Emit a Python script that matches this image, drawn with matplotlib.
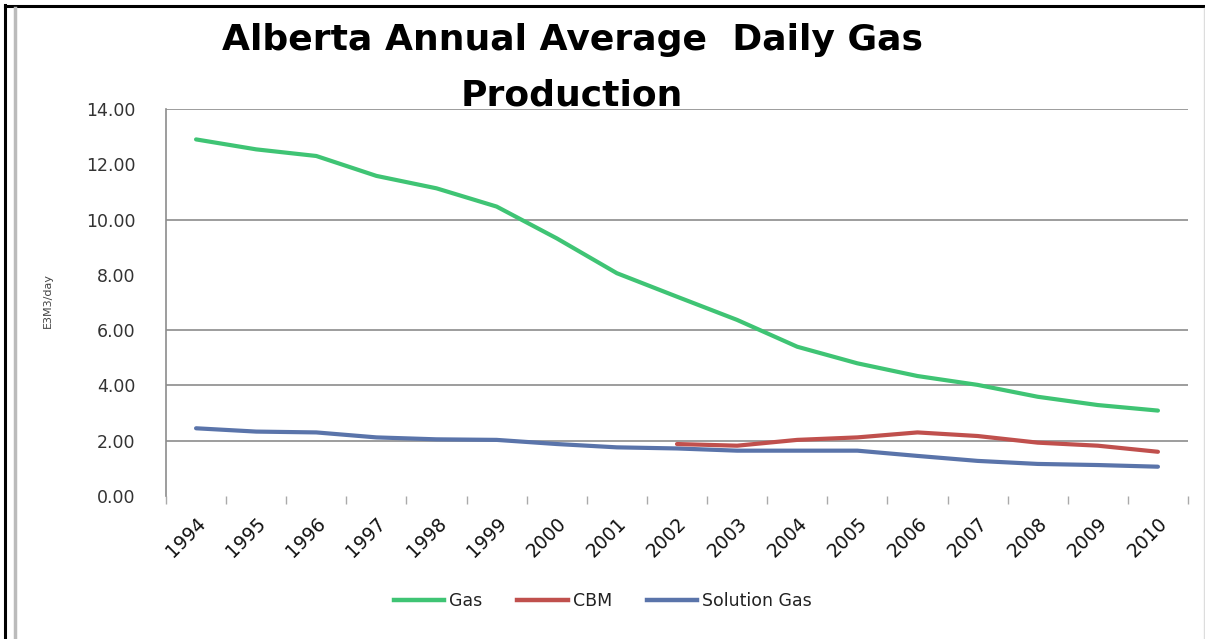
"""Alberta annual average daily gas production, 1994-2010."""

import matplotlib
matplotlib.use("Agg")
import matplotlib.pyplot as plt
from matplotlib.lines import Line2D

years = [str(y) for y in range(1994, 2011)]
gas = [12.90, 12.54, 12.30, 11.58, 11.13, 10.47, 9.32, 8.06, 7.21,
       6.37, 5.40, 4.80, 4.34, 4.02, 3.59, 3.29, 3.09]
cbm = [None] * 8 + [1.88, 1.82, 2.03, 2.12, 2.30, 2.17, 1.93, 1.82, 1.60]
solution_gas = [2.45, 2.33, 2.30, 2.12, 2.05, 2.03, 1.88, 1.76, 1.72,
                1.64, 1.64, 1.64, 1.45, 1.27, 1.16, 1.12, 1.06]

y_ticks = [0, 2, 4, 6, 8, 10, 12, 14]
grid_vals = [2, 4, 6, 10, 14]

GAS_C = "#3fc474"
CBM_C = "#c0504d"
SOL_C = "#5a74aa"
GRID_C = "#8c8c8c"

W, H = 1205, 639
fig = plt.figure(figsize=(W / 100, H / 100), dpi=100)
ax = fig.add_axes([166 / W, 1 - 496 / H, (1188 - 166) / W, (496 - 109) / H])

x = list(range(len(years)))
ax.plot(x, gas, color=GAS_C, lw=3, solid_capstyle="round", zorder=3)
ax.plot([i for i, v in zip(x, cbm) if v is not None],
        [v for v in cbm if v is not None],
        color=CBM_C, lw=3, solid_capstyle="round", zorder=3)
ax.plot(x, solution_gas, color=SOL_C, lw=3, solid_capstyle="round", zorder=2)

for g in grid_vals:
    ax.axhline(g, color=GRID_C, lw=1.2, zorder=1)

ax.set_xlim(-0.5, len(years) - 0.5)
ax.set_ylim(0, 14)

# labels on the major ticks, tick marks on the minor ones
ax.set_yticks(y_ticks)
ax.set_yticklabels([f"{v:.2f}" for v in y_ticks])
ax.set_yticks(grid_vals, minor=True)
ax.set_xticks(x)
ax.set_xticklabels(years, rotation=45, ha="right", va="top",
                   rotation_mode="anchor")
ax.set_xticks([i - 0.5 for i in range(len(years) + 1)], minor=True)

ax.tick_params(axis="y", which="major", length=0, pad=22,
               labelsize=12.5, labelcolor="#333333")
ax.tick_params(axis="y", which="minor", length=8, width=1, color=GRID_C)
ax.tick_params(axis="x", which="major", length=0, pad=13,
               labelsize=13.5, labelcolor="#111111")
ax.tick_params(axis="x", which="minor", length=6, width=1, color="#aaaaaa")

for s in ("top", "right", "bottom"):
    ax.spines[s].set_visible(False)
ax.spines["left"].set_color(GRID_C)
ax.spines["left"].set_linewidth(1.2)

fig.text(48 / W, 1 - 300 / H, "E3M3/day", rotation=90, ha="center",
         va="center", fontsize=8, color="#444444")

fig.text(572 / W, 1 - 40 / H, "Alberta Annual Average  Daily Gas",
         ha="center", va="center", fontsize=26, fontweight="bold",
         family="DejaVu Sans")
fig.text(572 / W, 1 - 96 / H, "Production",
         ha="center", va="center", fontsize=26, fontweight="bold",
         family="DejaVu Sans")

handles = [Line2D([], [], color=c, lw=3.2) for c in (GAS_C, CBM_C, SOL_C)]
fig.legend(handles, ["Gas", "CBM", "Solution Gas"], loc="center",
           bbox_to_anchor=(603 / W, 1 - 601 / H), ncol=3, frameon=False,
           fontsize=12.5, handlelength=2.9, handletextpad=0.3,
           columnspacing=2.0, labelcolor="#222222")

# chart frame
fig.add_artist(Line2D([5 / W, 5 / W], [0, 1 - 5 / H], color="black", lw=2.2))
fig.add_artist(Line2D([5 / W, 1], [1 - 6 / H, 1 - 6 / H], color="black", lw=2.2))
fig.add_artist(Line2D([14.5 / W, 14.5 / W], [0, 1 - 8 / H], color="#bbbbbb", lw=2.5))
fig.add_artist(Line2D([1203.5 / W, 1203.5 / W], [0, 1 - 8 / H], color="#dddddd", lw=1))

fig.savefig("out.png", dpi=100)
